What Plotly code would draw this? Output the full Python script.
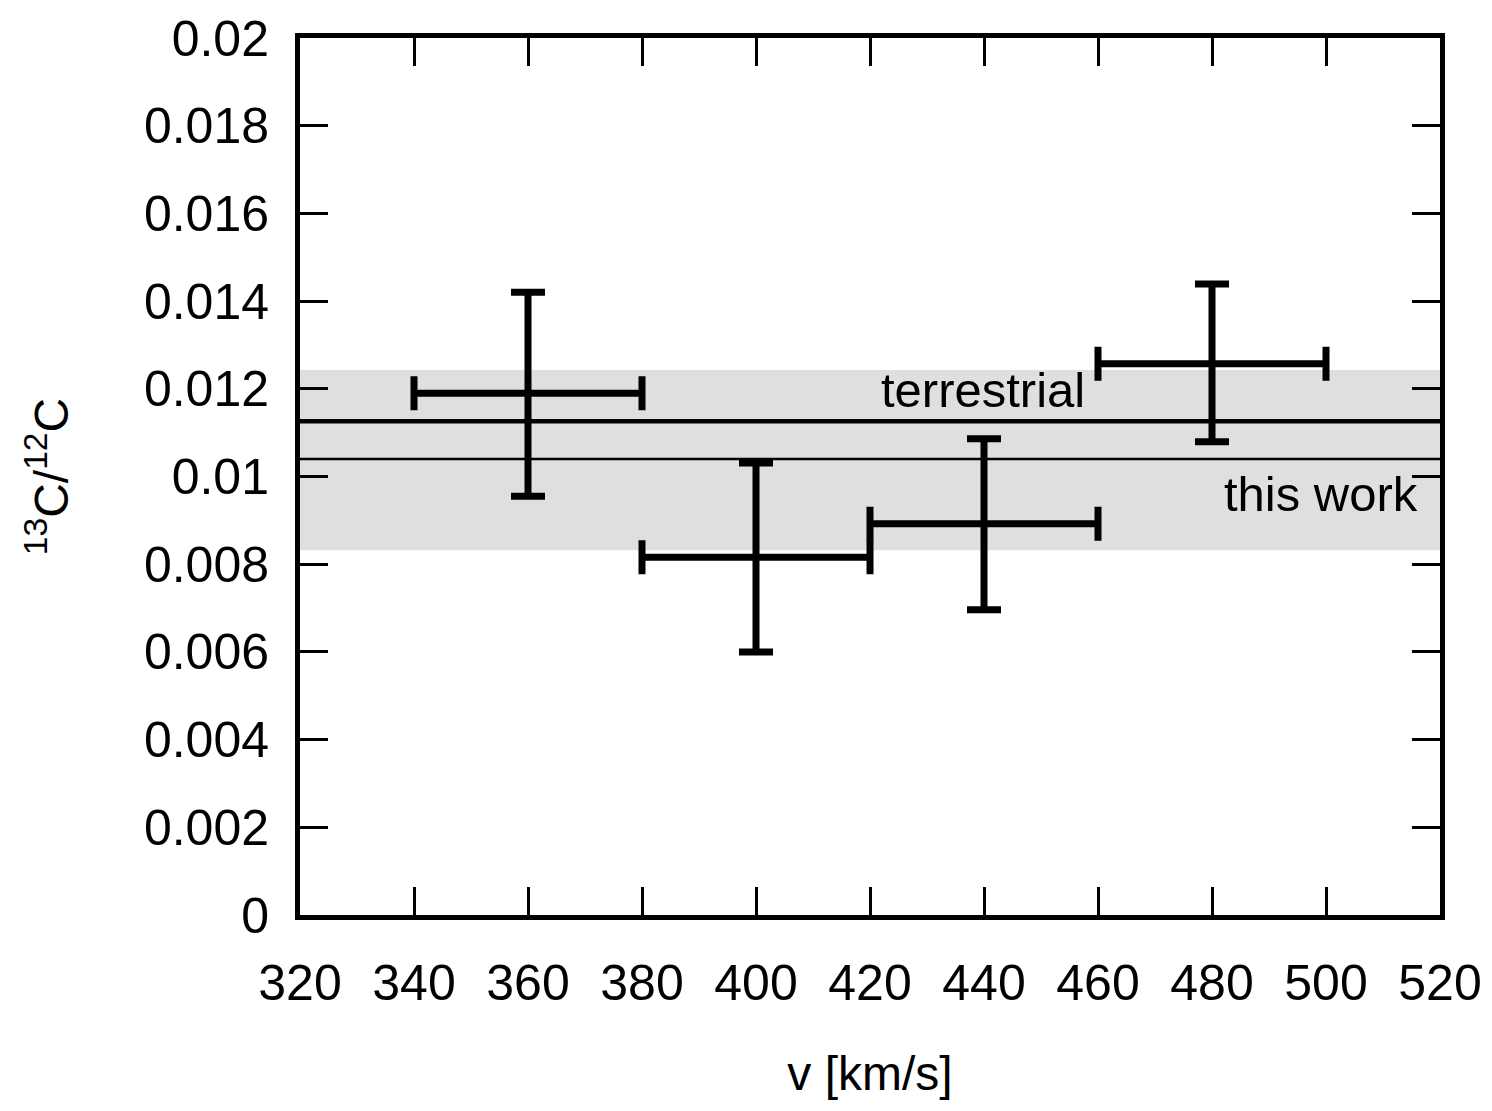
import plotly.graph_objects as go

# Data
velocity = [360, 400, 440, 480]
velocity_err = [20, 20, 20, 20]
ratio = [0.0119, 0.00816, 0.00892, 0.01257]
ratio_err_plus = [0.0023, 0.00215, 0.00194, 0.00182]
ratio_err_minus = [0.00235, 0.00216, 0.00196, 0.00178]

terrestrial = 0.01126
this_work = 0.0104
this_work_low = 0.00832
this_work_high = 0.01243

x_ticks = [320, 340, 360, 380, 400, 420, 440, 460, 480, 500, 520]
y_ticks = [0, 0.002, 0.004, 0.006, 0.008, 0.01, 0.012, 0.014, 0.016, 0.018, 0.02]
y_tick_labels = ["0", "0.002", "0.004", "0.006", "0.008", "0.01", "0.012", "0.014", "0.016", "0.018", "0.02"]

FONT = "Liberation Sans, Arial, Helvetica, sans-serif"

fig = go.Figure()

fig.add_trace(go.Scatter(
    x=velocity, y=ratio, mode="markers",
    marker=dict(size=1, color="black"),
    error_x=dict(type="data", array=velocity_err, color="black", thickness=7, width=17),
    error_y=dict(type="data", array=ratio_err_plus, arrayminus=ratio_err_minus,
                 color="black", thickness=7, width=17),
    showlegend=False, hoverinfo="x+y",
))

# shaded band
fig.add_shape(type="rect", xref="paper", x0=0, x1=1, yref="y",
              y0=this_work_low, y1=this_work_high,
              fillcolor="#dfdfdf", line=dict(width=0), layer="below")
fig.add_shape(type="line", xref="paper", x0=0, x1=1, yref="y",
              y0=terrestrial, y1=terrestrial, line=dict(color="black", width=4.5))
fig.add_shape(type="line", xref="paper", x0=0, x1=1, yref="y",
              y0=this_work, y1=this_work, line=dict(color="black", width=2.5))

fig.add_annotation(x=458, y=terrestrial, xref="x", yref="y", text="terrestrial",
                   showarrow=False, xanchor="right", yanchor="bottom", yshift=2,
                   font=dict(family=FONT, size=49, color="black"))
fig.add_annotation(x=516.5, y=this_work, xref="x", yref="y", text="this work",
                   showarrow=False, xanchor="right", yanchor="top", yshift=-6,
                   font=dict(family=FONT, size=49, color="black"))

axis_common = dict(
    showline=True, linecolor="black", linewidth=5, mirror="ticks",
    ticks="inside", ticklen=28, tickwidth=3, tickcolor="black",
    showgrid=False, zeroline=False,
    tickfont=dict(family=FONT, size=50, color="black"),
)

fig.update_xaxes(range=[320, 520], tickvals=x_ticks, ticktext=[str(v) for v in x_ticks],
                 ticklabelstandoff=20,
                 title=dict(text="v [km/s]", font=dict(family=FONT, size=48, color="black"), standoff=48),
                 **axis_common)
fig.update_yaxes(range=[0, 0.02], tickvals=y_ticks, ticktext=y_tick_labels,
                 ticklabelstandoff=16,
                 title=dict(text="<sup>13</sup>C/<sup>12</sup>C", font=dict(family=FONT, size=48, color="black"), standoff=62),
                 **axis_common)

fig.update_layout(
    width=1492, height=1111,
    margin=dict(l=300, r=52, t=38, b=196, autoexpand=False),
    plot_bgcolor="white", paper_bgcolor="white",
    font=dict(family=FONT, color="black"),
)

fig.write_html("out.html")
